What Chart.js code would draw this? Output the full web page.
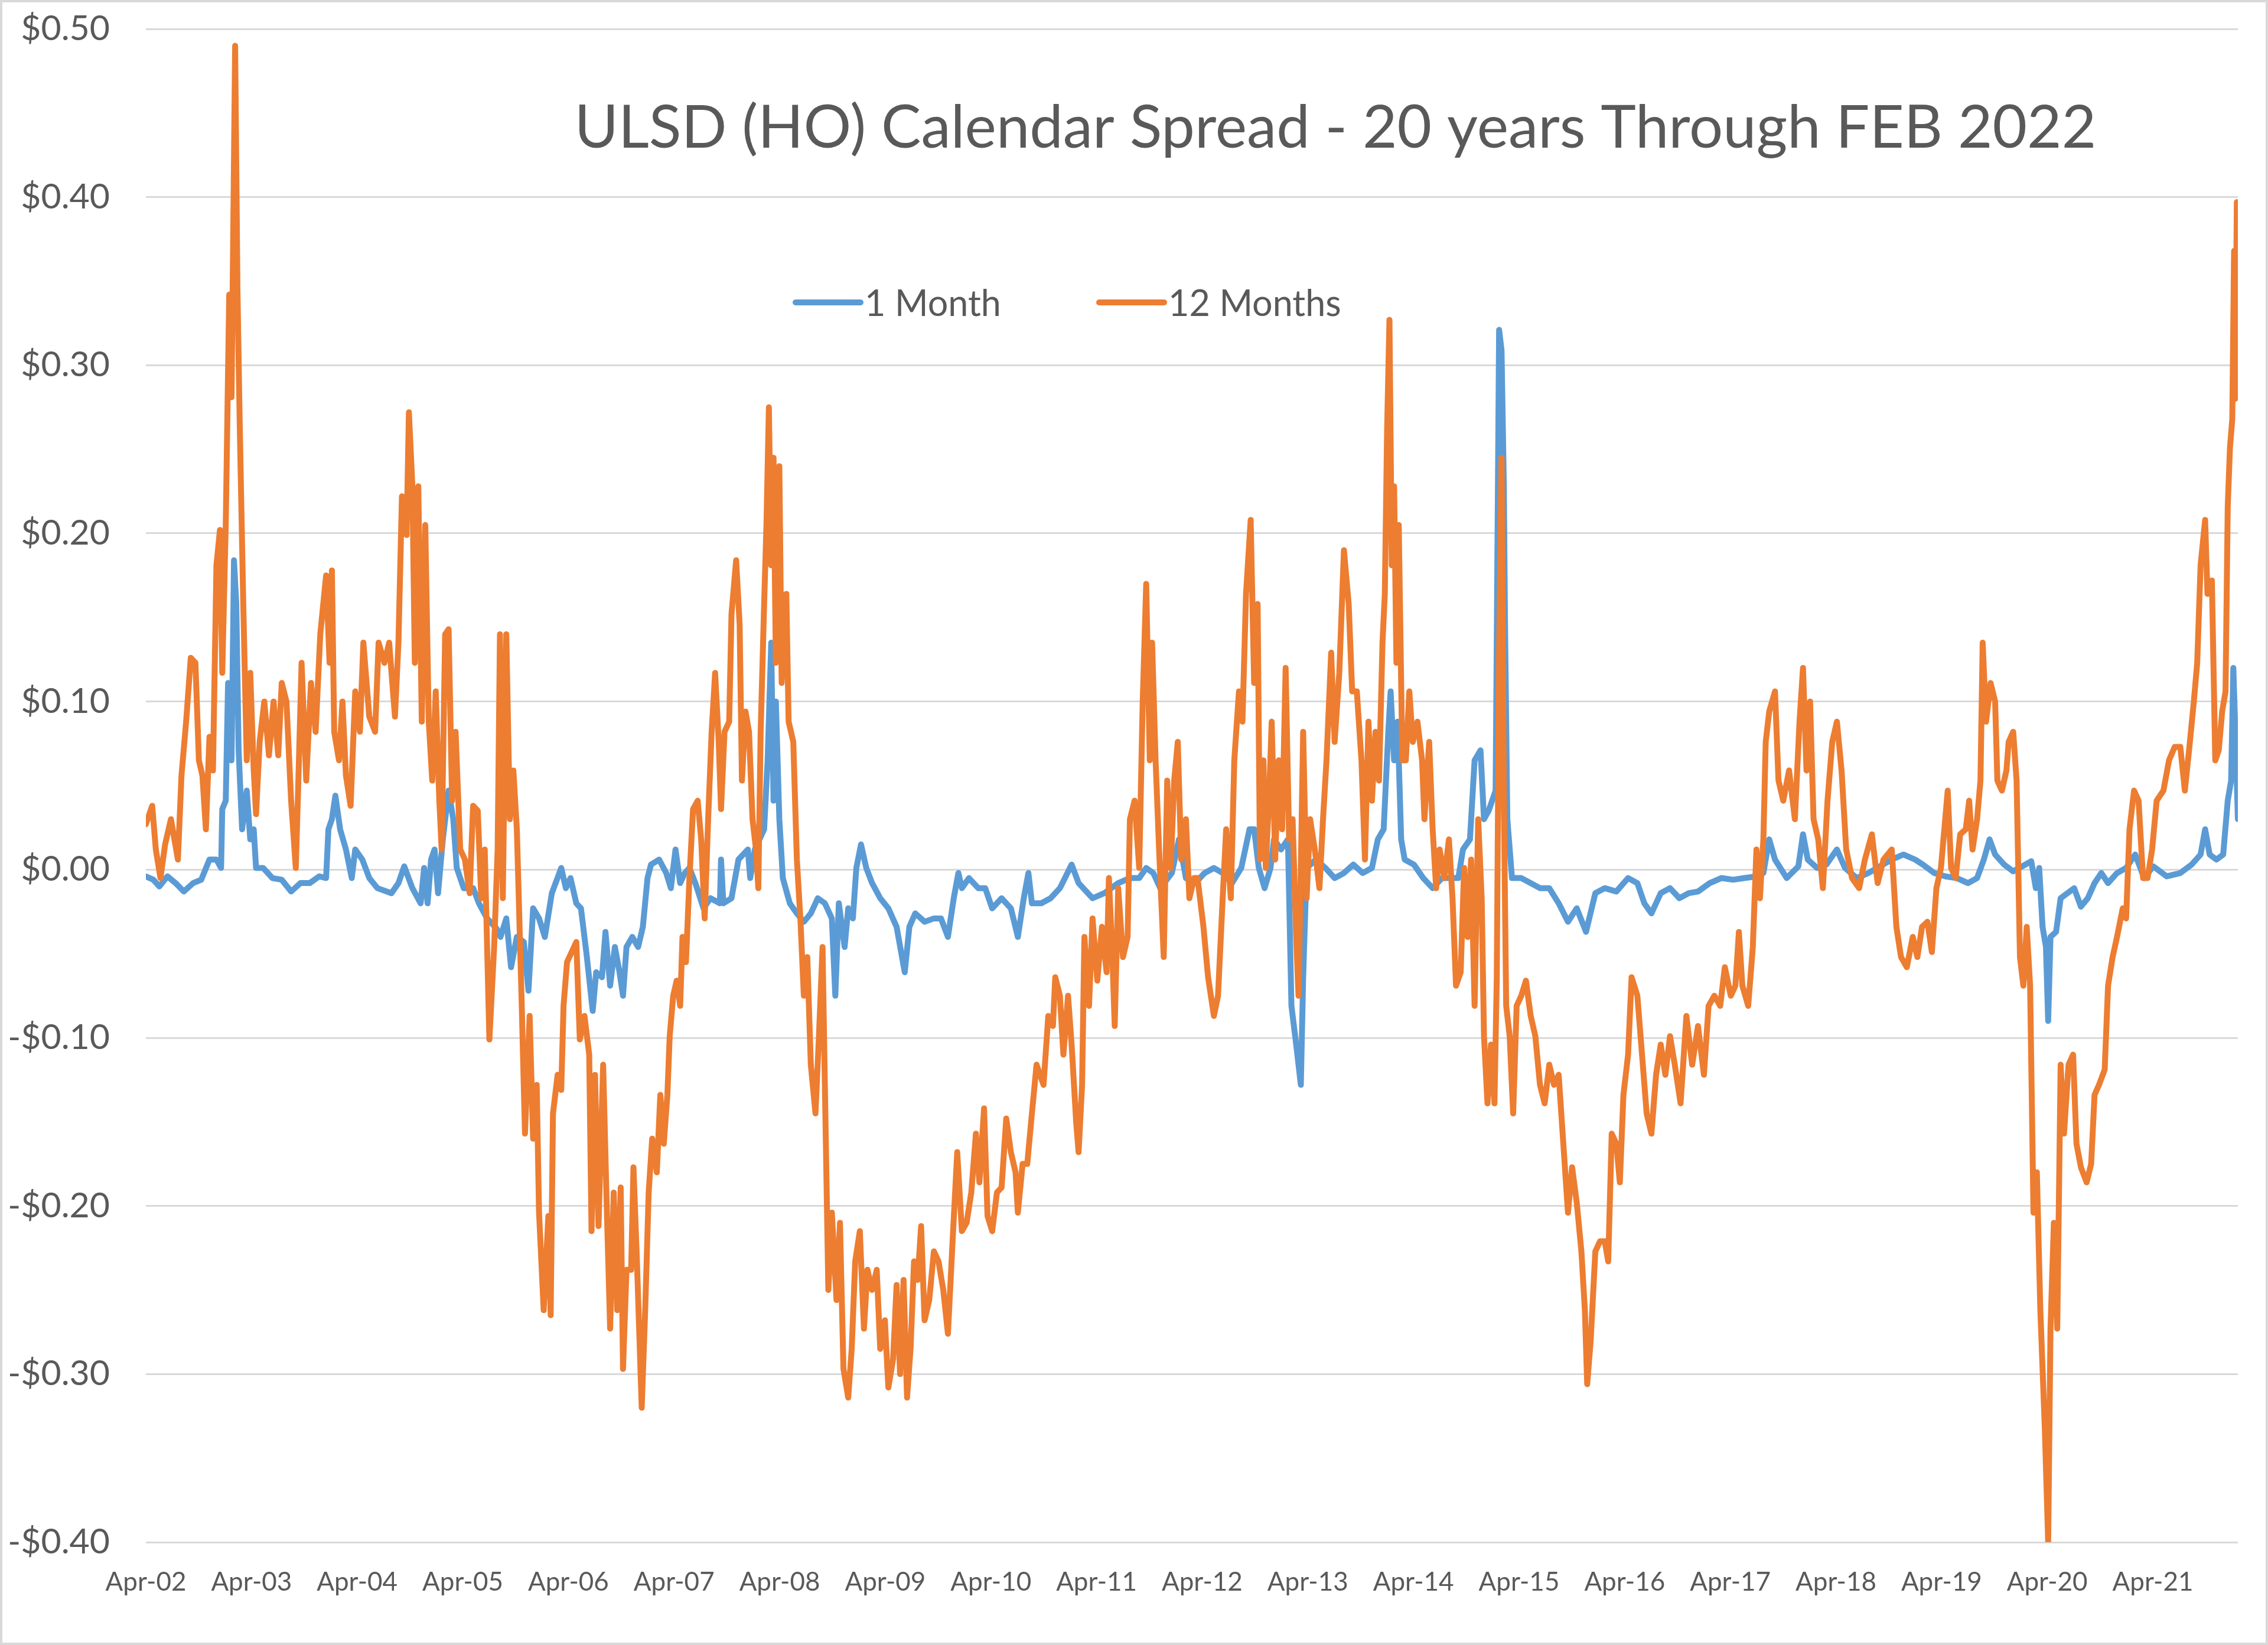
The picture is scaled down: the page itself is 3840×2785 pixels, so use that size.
<!DOCTYPE html>
<html>
<head>
<meta charset="utf-8">
<title>ULSD (HO) Calendar Spread</title>
<script src="https://cdn.jsdelivr.net/npm/chart.js@4.4.1/dist/chart.umd.min.js"></script>
<style>
  html, body { margin: 0; padding: 0; background: #fff; }
  #frame { width: 3840px; height: 2785px; box-sizing: border-box; border: 4px solid #d9d9d9; background: #fff; }
  #myChart { display: block; }
</style>
</head>
<body>
<div id="frame"><canvas id="myChart" width="3832" height="2777"></canvas></div>
<script>
'use strict';

const chartTitle = 'ULSD (HO) Calendar Spread - 20 years Through FEB 2022';
const seriesNames = ['1 Month', '12 Months'];
const tickLabels = ['Apr-02', 'Apr-03', 'Apr-04', 'Apr-05', 'Apr-06', 'Apr-07', 'Apr-08', 'Apr-09', 'Apr-10', 'Apr-11',
  'Apr-12', 'Apr-13', 'Apr-14', 'Apr-15', 'Apr-16', 'Apr-17', 'Apr-18', 'Apr-19', 'Apr-20', 'Apr-21'];

// x = years since Apr-02, y = spread in $/gal
const oneMonthYears = [
  0.000, 0.071, 0.127, 0.204, 0.281, 0.359, 0.447, 0.524, 0.602, 0.668, 0.712, 0.723, 0.756, 0.778, 0.811, 0.834,
  0.856, 0.878, 0.911, 0.955, 0.988, 1.021, 1.043, 1.110, 1.198, 1.286, 1.375, 1.463, 1.551, 1.640, 1.706, 1.728,
  1.761, 1.794, 1.839, 1.894, 1.949, 1.982, 2.049, 2.115, 2.192, 2.325, 2.391, 2.446, 2.523, 2.601, 2.634, 2.667,
  2.700, 2.733, 2.766, 2.811, 2.866, 2.910, 2.943, 3.009, 3.098, 3.153, 3.230, 3.319, 3.357, 3.412, 3.457, 3.512,
  3.578, 3.622, 3.666, 3.722, 3.777, 3.843, 3.932, 3.976, 4.020, 4.075, 4.119, 4.175, 4.230, 4.263, 4.318, 4.351,
  4.395, 4.440, 4.484, 4.517, 4.550, 4.605, 4.660, 4.705, 4.749, 4.782, 4.859, 4.926, 4.970, 5.014, 5.058, 5.102,
  5.146, 5.202, 5.279, 5.345, 5.434, 5.445, 5.467, 5.544, 5.610, 5.699, 5.721, 5.765, 5.853, 5.886, 5.920, 5.942,
  5.964, 5.997, 6.030, 6.096, 6.163, 6.229, 6.295, 6.361, 6.428, 6.494, 6.527, 6.560, 6.615, 6.649, 6.693, 6.726,
  6.770, 6.820, 6.875, 6.952, 7.029, 7.107, 7.184, 7.228, 7.284, 7.372, 7.460, 7.527, 7.593, 7.648, 7.692, 7.725,
  7.792, 7.880, 7.946, 8.012, 8.101, 8.189, 8.255, 8.311, 8.355, 8.388, 8.476, 8.565, 8.653, 8.764, 8.830, 8.962,
  9.073, 9.205, 9.316, 9.404, 9.470, 9.537, 9.603, 9.713, 9.780, 9.846, 9.934, 10.023, 10.111, 10.194, 10.282, 10.370,
  10.448, 10.492, 10.536, 10.591, 10.647, 10.680, 10.746, 10.812, 10.845, 10.890, 10.934, 10.956, 10.989, 11.077, 11.166, 11.254,
  11.342, 11.431, 11.519, 11.607, 11.663, 11.718, 11.762, 11.784, 11.817, 11.850, 11.884, 11.917, 12.005, 12.093, 12.182, 12.270,
  12.359, 12.425, 12.469, 12.535, 12.579, 12.635, 12.668, 12.712, 12.778, 12.811, 12.834, 12.856, 12.867, 12.889, 12.933, 13.021,
  13.110, 13.198, 13.286, 13.375, 13.463, 13.546, 13.634, 13.722, 13.811, 13.921, 14.032, 14.120, 14.186, 14.253, 14.341, 14.429,
  14.518, 14.606, 14.694, 14.805, 14.915, 15.026, 15.136, 15.247, 15.313, 15.368, 15.423, 15.534, 15.644, 15.688, 15.733, 15.821,
  15.909, 16.009, 16.086, 16.197, 16.307, 16.417, 16.528, 16.638, 16.749, 16.823, 16.930, 17.037, 17.144, 17.250, 17.336, 17.400,
  17.454, 17.507, 17.592, 17.678, 17.764, 17.849, 17.892, 17.924, 17.956, 17.988, 18.009, 18.031, 18.084, 18.127, 18.191, 18.255,
  18.319, 18.384, 18.448, 18.512, 18.576, 18.661, 18.747, 18.833, 18.918, 19.004, 19.132, 19.260, 19.367, 19.452, 19.495, 19.538,
  19.602, 19.666, 19.709, 19.741, 19.762, 19.784, 19.805
];
const oneMonthSpread = [
  -0.004, -0.006, -0.010, -0.004, -0.008, -0.013, -0.008, -0.006, 0.006, 0.006, 0.001, 0.036, 0.041, 0.111, 0.065, 0.184,
  0.158, 0.071, 0.024, 0.047, 0.018, 0.024, 0.001, 0.001, -0.005, -0.006, -0.013, -0.008, -0.008, -0.004, -0.005, 0.024,
  0.030, 0.044, 0.024, 0.012, -0.005, 0.012, 0.006, -0.005, -0.011, -0.014, -0.008, 0.002, -0.011, -0.020, 0.001, -0.020,
  0.006, 0.012, -0.014, 0.018, 0.047, 0.030, 0.001, -0.011, -0.011, -0.020, -0.029, -0.035, -0.040, -0.029, -0.058, -0.040,
  -0.043, -0.072, -0.023, -0.029, -0.040, -0.014, 0.001, -0.011, -0.005, -0.020, -0.023, -0.052, -0.084, -0.061, -0.064, -0.037,
  -0.069, -0.046, -0.061, -0.075, -0.046, -0.040, -0.046, -0.034, -0.005, 0.003, 0.006, -0.002, -0.011, 0.012, -0.008, -0.002,
  0.001, -0.008, -0.023, -0.017, -0.020, 0.006, -0.020, -0.017, 0.006, 0.012, -0.005, 0.012, 0.024, 0.065, 0.135, 0.041,
  0.100, 0.030, -0.005, -0.020, -0.026, -0.031, -0.026, -0.017, -0.020, -0.029, -0.075, -0.020, -0.046, -0.023, -0.029, 0.001,
  0.015, 0.001, -0.008, -0.017, -0.023, -0.034, -0.061, -0.034, -0.026, -0.031, -0.029, -0.029, -0.040, -0.017, -0.002, -0.011,
  -0.005, -0.011, -0.011, -0.023, -0.017, -0.023, -0.040, -0.017, -0.002, -0.020, -0.020, -0.017, -0.011, 0.003, -0.008, -0.017,
  -0.014, -0.008, -0.005, -0.005, 0.001, -0.002, -0.011, -0.002, 0.018, -0.005, -0.008, -0.002, 0.001, -0.002, -0.008, 0.001,
  0.024, 0.024, 0.001, -0.011, 0.001, 0.018, 0.012, 0.018, -0.081, -0.104, -0.128, -0.064, 0.001, 0.006, 0.001, -0.005,
  -0.002, 0.003, -0.002, 0.001, 0.018, 0.024, 0.082, 0.106, 0.065, 0.088, 0.018, 0.006, 0.003, -0.005, -0.011, -0.005,
  -0.005, -0.005, 0.012, 0.018, 0.065, 0.071, 0.030, 0.035, 0.047, 0.321, 0.309, 0.228, 0.146, 0.030, -0.005, -0.005,
  -0.008, -0.011, -0.011, -0.020, -0.031, -0.023, -0.037, -0.014, -0.011, -0.013, -0.005, -0.008, -0.020, -0.026, -0.014, -0.011,
  -0.017, -0.014, -0.013, -0.008, -0.005, -0.006, -0.005, -0.004, -0.002, 0.018, 0.006, -0.005, 0.002, 0.021, 0.006, 0.001,
  0.003, 0.012, 0.001, -0.005, -0.002, 0.002, 0.006, 0.009, 0.006, 0.003, -0.002, -0.004, -0.005, -0.008, -0.005, 0.006,
  0.018, 0.009, 0.003, -0.001, 0.002, 0.005, -0.011, 0.001, -0.034, -0.046, -0.090, -0.040, -0.037, -0.017, -0.014, -0.011,
  -0.022, -0.017, -0.008, -0.002, -0.008, -0.002, 0.001, 0.009, -0.005, 0.002, -0.004, -0.002, 0.003, 0.009, 0.024, 0.009,
  0.006, 0.009, 0.041, 0.053, 0.120, 0.076, 0.030
];

const twelveMonthYears = [
  0.000, 0.060, 0.094, 0.138, 0.182, 0.237, 0.303, 0.337, 0.381, 0.425, 0.469, 0.502, 0.535, 0.568, 0.602, 0.635,
  0.668, 0.701, 0.723, 0.756, 0.789, 0.811, 0.845, 0.867, 0.889, 0.922, 0.955, 0.988, 1.021, 1.043, 1.077, 1.121,
  1.165, 1.209, 1.253, 1.286, 1.331, 1.375, 1.419, 1.441, 1.474, 1.518, 1.563, 1.607, 1.651, 1.706, 1.739, 1.761,
  1.783, 1.828, 1.861, 1.894, 1.938, 1.982, 2.026, 2.059, 2.115, 2.170, 2.203, 2.258, 2.303, 2.358, 2.391, 2.424,
  2.468, 2.490, 2.523, 2.546, 2.579, 2.612, 2.645, 2.678, 2.711, 2.744, 2.778, 2.800, 2.833, 2.866, 2.899, 2.932,
  2.976, 3.020, 3.065, 3.098, 3.142, 3.175, 3.208, 3.252, 3.297, 3.330, 3.352, 3.379, 3.412, 3.446, 3.479, 3.512,
  3.556, 3.589, 3.633, 3.666, 3.700, 3.722, 3.766, 3.810, 3.832, 3.854, 3.898, 3.932, 3.954, 3.987, 4.031, 4.075,
  4.108, 4.152, 4.197, 4.219, 4.252, 4.285, 4.329, 4.362, 4.395, 4.429, 4.462, 4.495, 4.517, 4.550, 4.594, 4.616,
  4.649, 4.694, 4.727, 4.760, 4.793, 4.837, 4.870, 4.903, 4.937, 4.959, 4.992, 5.025, 5.058, 5.080, 5.113, 5.146,
  5.180, 5.224, 5.257, 5.290, 5.323, 5.356, 5.389, 5.423, 5.445, 5.478, 5.522, 5.544, 5.588, 5.621, 5.643, 5.677,
  5.710, 5.743, 5.776, 5.798, 5.820, 5.853, 5.875, 5.898, 5.920, 5.942, 5.964, 5.997, 6.019, 6.063, 6.085, 6.129,
  6.163, 6.196, 6.229, 6.262, 6.295, 6.339, 6.372, 6.406, 6.428, 6.461, 6.494, 6.538, 6.571, 6.604, 6.649, 6.682,
  6.715, 6.759, 6.798, 6.831, 6.875, 6.919, 6.952, 6.996, 7.029, 7.074, 7.107, 7.140, 7.173, 7.206, 7.239, 7.272,
  7.306, 7.339, 7.372, 7.416, 7.460, 7.504, 7.549, 7.593, 7.637, 7.681, 7.725, 7.770, 7.814, 7.858, 7.891, 7.935,
  7.968, 8.012, 8.057, 8.101, 8.145, 8.189, 8.233, 8.255, 8.300, 8.344, 8.388, 8.432, 8.498, 8.543, 8.587, 8.609,
  8.653, 8.686, 8.730, 8.764, 8.808, 8.830, 8.863, 8.885, 8.929, 8.962, 9.007, 9.051, 9.095, 9.117, 9.150, 9.172,
  9.205, 9.250, 9.294, 9.316, 9.360, 9.404, 9.437, 9.470, 9.504, 9.526, 9.559, 9.592, 9.636, 9.669, 9.702, 9.735,
  9.769, 9.802, 9.846, 9.879, 9.923, 9.956, 10.012, 10.056, 10.111, 10.150, 10.194, 10.227, 10.271, 10.304, 10.348, 10.381,
  10.415, 10.459, 10.492, 10.525, 10.547, 10.580, 10.602, 10.636, 10.658, 10.691, 10.724, 10.757, 10.790, 10.823, 10.856, 10.890,
  10.912, 10.934, 10.956, 10.989, 11.022, 11.066, 11.110, 11.144, 11.177, 11.221, 11.254, 11.298, 11.342, 11.387, 11.420, 11.464,
  11.508, 11.541, 11.574, 11.607, 11.641, 11.674, 11.707, 11.729, 11.751, 11.773, 11.795, 11.817, 11.839, 11.861, 11.895, 11.928,
  11.961, 11.994, 12.038, 12.082, 12.104, 12.149, 12.182, 12.215, 12.248, 12.292, 12.336, 12.370, 12.403, 12.447, 12.480, 12.513,
  12.546, 12.579, 12.613, 12.646, 12.668, 12.701, 12.734, 12.767, 12.789, 12.811, 12.834, 12.856, 12.878, 12.911, 12.944, 12.977,
  13.021, 13.065, 13.110, 13.154, 13.198, 13.242, 13.286, 13.331, 13.375, 13.419, 13.463, 13.502, 13.546, 13.590, 13.623, 13.645,
  13.678, 13.722, 13.767, 13.811, 13.844, 13.877, 13.921, 13.954, 13.988, 14.032, 14.065, 14.120, 14.164, 14.208, 14.253, 14.297,
  14.341, 14.385, 14.429, 14.474, 14.529, 14.584, 14.639, 14.694, 14.750, 14.794, 14.849, 14.904, 14.948, 15.004, 15.048, 15.081,
  15.114, 15.169, 15.213, 15.247, 15.280, 15.313, 15.335, 15.368, 15.423, 15.456, 15.501, 15.556, 15.611, 15.655, 15.688, 15.721,
  15.755, 15.788, 15.832, 15.876, 15.920, 15.965, 16.009, 16.053, 16.097, 16.152, 16.219, 16.274, 16.340, 16.395, 16.450, 16.528,
  16.572, 16.616, 16.671, 16.727, 16.771, 16.815, 16.866, 16.908, 16.951, 16.994, 17.026, 17.058, 17.090, 17.133, 17.176, 17.229,
  17.261, 17.293, 17.336, 17.368, 17.389, 17.421, 17.464, 17.507, 17.528, 17.571, 17.614, 17.635, 17.678, 17.710, 17.742, 17.774,
  17.806, 17.838, 17.870, 17.902, 17.935, 17.977, 18.009, 18.031, 18.063, 18.095, 18.127, 18.159, 18.202, 18.245, 18.277, 18.319,
  18.373, 18.416, 18.448, 18.490, 18.544, 18.576, 18.619, 18.661, 18.715, 18.747, 18.779, 18.822, 18.865, 18.907, 18.950, 18.993,
  19.036, 19.100, 19.153, 19.207, 19.260, 19.303, 19.346, 19.388, 19.420, 19.452, 19.495, 19.517, 19.559, 19.591, 19.624, 19.656,
  19.688, 19.709, 19.730, 19.752, 19.769, 19.780, 19.795
];
const twelveMonthSpread = [
  0.027, 0.038, 0.012, -0.005, 0.015, 0.030, 0.006, 0.056, 0.088, 0.126, 0.123, 0.065, 0.056, 0.024, 0.079, 0.059,
  0.181, 0.202, 0.117, 0.205, 0.342, 0.281, 0.490, 0.345, 0.263, 0.158, 0.065, 0.117, 0.059, 0.033, 0.076, 0.100,
  0.068, 0.100, 0.068, 0.111, 0.100, 0.041, 0.001, 0.047, 0.123, 0.053, 0.111, 0.082, 0.140, 0.175, 0.123, 0.178,
  0.082, 0.065, 0.100, 0.056, 0.038, 0.106, 0.082, 0.135, 0.091, 0.082, 0.135, 0.123, 0.135, 0.091, 0.135, 0.222,
  0.199, 0.272, 0.228, 0.123, 0.228, 0.088, 0.205, 0.088, 0.053, 0.106, 0.041, 0.012, 0.140, 0.143, 0.041, 0.082,
  0.012, 0.006, -0.014, 0.038, 0.035, -0.017, 0.012, -0.101, -0.046, 0.012, 0.140, -0.017, 0.140, 0.030, 0.059, 0.024,
  -0.075, -0.157, -0.087, -0.160, -0.128, -0.204, -0.262, -0.206, -0.265, -0.145, -0.122, -0.131, -0.081, -0.055, -0.049, -0.043,
  -0.101, -0.087, -0.110, -0.215, -0.122, -0.212, -0.116, -0.198, -0.273, -0.192, -0.262, -0.189, -0.297, -0.238, -0.238, -0.177,
  -0.233, -0.320, -0.262, -0.192, -0.160, -0.180, -0.134, -0.163, -0.134, -0.099, -0.075, -0.066, -0.081, -0.040, -0.055, -0.005,
  0.036, 0.041, 0.018, -0.029, 0.030, 0.082, 0.117, 0.076, 0.036, 0.082, 0.088, 0.152, 0.184, 0.146, 0.053, 0.094,
  0.082, 0.030, 0.012, -0.011, 0.082, 0.158, 0.205, 0.275, 0.181, 0.245, 0.123, 0.240, 0.111, 0.164, 0.088, 0.076,
  0.006, -0.029, -0.075, -0.052, -0.116, -0.145, -0.099, -0.046, -0.128, -0.250, -0.204, -0.256, -0.210, -0.297, -0.314, -0.285,
  -0.233, -0.215, -0.273, -0.238, -0.250, -0.238, -0.285, -0.268, -0.308, -0.291, -0.247, -0.300, -0.244, -0.314, -0.285, -0.233,
  -0.244, -0.212, -0.268, -0.256, -0.227, -0.233, -0.250, -0.276, -0.221, -0.168, -0.215, -0.210, -0.192, -0.157, -0.186, -0.142,
  -0.206, -0.215, -0.192, -0.189, -0.148, -0.168, -0.180, -0.204, -0.175, -0.175, -0.145, -0.116, -0.128, -0.087, -0.093, -0.064,
  -0.075, -0.110, -0.075, -0.104, -0.151, -0.168, -0.128, -0.040, -0.081, -0.029, -0.066, -0.034, -0.061, -0.005, -0.052, -0.093,
  -0.011, -0.052, -0.040, 0.030, 0.041, 0.001, 0.100, 0.170, 0.065, 0.135, 0.065, 0.012, -0.052, 0.053, 0.001, 0.053,
  0.076, 0.006, 0.030, -0.017, -0.005, -0.005, -0.034, -0.064, -0.087, -0.075, -0.017, 0.024, -0.017, 0.065, 0.106, 0.088,
  0.164, 0.208, 0.111, 0.158, 0.006, 0.065, 0.001, 0.047, 0.088, 0.006, 0.065, 0.024, 0.120, 0.018, 0.030, -0.040,
  -0.075, 0.001, 0.082, -0.017, 0.030, 0.012, -0.011, 0.030, 0.065, 0.129, 0.076, 0.117, 0.190, 0.158, 0.106, 0.106,
  0.065, 0.006, 0.088, 0.041, 0.082, 0.053, 0.135, 0.164, 0.263, 0.327, 0.181, 0.228, 0.123, 0.205, 0.065, 0.065,
  0.106, 0.076, 0.088, 0.065, 0.030, 0.076, 0.024, -0.011, 0.012, -0.005, 0.018, -0.017, -0.069, -0.061, 0.001, -0.040,
  0.006, -0.081, 0.030, -0.017, -0.099, -0.139, -0.104, -0.139, -0.064, 0.129, 0.245, 0.041, -0.081, -0.099, -0.145, -0.081,
  -0.075, -0.066, -0.087, -0.099, -0.128, -0.139, -0.116, -0.128, -0.122, -0.163, -0.204, -0.177, -0.198, -0.227, -0.262, -0.306,
  -0.280, -0.227, -0.221, -0.221, -0.233, -0.157, -0.163, -0.186, -0.134, -0.110, -0.064, -0.075, -0.110, -0.145, -0.157, -0.122,
  -0.104, -0.122, -0.099, -0.116, -0.139, -0.087, -0.116, -0.093, -0.122, -0.081, -0.075, -0.081, -0.058, -0.075, -0.069, -0.037,
  -0.069, -0.081, -0.046, 0.012, -0.017, 0.018, 0.076, 0.094, 0.106, 0.053, 0.041, 0.059, 0.030, 0.088, 0.120, 0.059,
  0.100, 0.030, 0.018, -0.011, 0.041, 0.076, 0.088, 0.059, 0.012, -0.005, -0.011, 0.006, 0.021, -0.008, 0.006, 0.012,
  -0.034, -0.052, -0.058, -0.040, -0.052, -0.034, -0.031, -0.049, -0.011, 0.001, 0.024, 0.047, 0.001, -0.005, 0.021, 0.024,
  0.041, 0.012, 0.030, 0.053, 0.135, 0.088, 0.111, 0.100, 0.053, 0.047, 0.059, 0.076, 0.082, 0.053, -0.052, -0.069,
  -0.034, -0.069, -0.204, -0.180, -0.262, -0.332, -0.400, -0.273, -0.210, -0.273, -0.116, -0.157, -0.116, -0.110, -0.163, -0.177,
  -0.186, -0.175, -0.134, -0.128, -0.119, -0.069, -0.052, -0.040, -0.023, -0.029, 0.024, 0.047, 0.041, -0.005, -0.005, 0.012,
  0.041, 0.047, 0.065, 0.073, 0.073, 0.047, 0.073, 0.100, 0.123, 0.181, 0.208, 0.164, 0.172, 0.065, 0.071, 0.094,
  0.106, 0.216, 0.251, 0.268, 0.368, 0.280, 0.397
];

const blue = '#5b9bd5';
const orange = '#ed7d31';
const textGray = '#595959';
const gridGray = '#d9d9d9';

function toPoints(xs, ys) {
  return xs.map((x, i) => ({ x: x, y: ys[i] }));
}

function money(v) {
  if (Math.abs(v) < 1e-9) return '$0.00';
  return (v < 0 ? '-$' : '$') + Math.abs(v).toFixed(2);
}

// title and legend sit inside the plot area, so they are drawn here
const overlayText = {
  id: 'overlayText',
  afterDraw(chart) {
    const ctx = chart.ctx;
    ctx.save();
    ctx.fillStyle = textGray;
    ctx.font = '101px Lato';
    ctx.textAlign = 'center';
    ctx.textBaseline = 'alphabetic';
    ctx.fillText(chartTitle, 2257, 246);

    const legendX = [1338, 1852];
    const legendY = 508;
    ctx.font = '61px Lato';
    ctx.textAlign = 'left';
    ctx.textBaseline = 'middle';
    chart.data.datasets.forEach((ds, i) => {
      const x = legendX[i];
      ctx.strokeStyle = ds.borderColor;
      ctx.lineWidth = 10;
      ctx.lineCap = 'round';
      ctx.beginPath();
      ctx.moveTo(x + 5, legendY);
      ctx.lineTo(x + 115, legendY);
      ctx.stroke();
      ctx.fillText(ds.label, x + 122, legendY + 3);
    });
    ctx.restore();
  }
};

const config = {
  type: 'line',
  data: {
    datasets: [
      {
        label: seriesNames[0],
        data: toPoints(oneMonthYears, oneMonthSpread),
        borderColor: blue,
        borderWidth: 10,
        order: 1
      },
      {
        label: seriesNames[1],
        data: toPoints(twelveMonthYears, twelveMonthSpread),
        borderColor: orange,
        borderWidth: 10,
        order: 0
      }
    ]
  },
  options: {
    responsive: false,
    animation: false,
    layout: { padding: { left: 0, right: 47, top: 45, bottom: 0 } },
    elements: {
      point: { radius: 0 },
      line: { tension: 0, borderJoinStyle: 'round', borderCapStyle: 'round' }
    },
    scales: {
      x: {
        type: 'linear',
        min: 0,
        max: Math.max(oneMonthYears[oneMonthYears.length - 1], twelveMonthYears[twelveMonthYears.length - 1]),
        grid: { display: false },
        border: { display: false },
        afterBuildTicks: (scale) => {
          scale.ticks = tickLabels.map((_, i) => ({ value: i }));
        },
        afterFit: (scale) => { scale.height = 170; },
        ticks: {
          color: textGray,
          font: { size: 44 },
          padding: 33,
          maxRotation: 0,
          autoSkip: false,
          callback: (v) => tickLabels[v]
        }
      },
      y: {
        min: -0.4,
        max: 0.5,
        grid: { color: gridGray, lineWidth: 3, drawTicks: false },
        border: { display: false },
        afterFit: (scale) => {
          scale.width = 243;
          scale.paddingTop = 0;
          scale.paddingBottom = 0;
        },
        ticks: {
          stepSize: 0.1,
          color: textGray,
          font: { size: 59 },
          padding: 61,
          callback: (v) => money(v)
        }
      }
    },
    plugins: {
      legend: { display: false },
      title: { display: false },
      tooltip: { enabled: false }
    }
  },
  plugins: [overlayText]
};

Chart.defaults.font.family = 'Lato';
const myChart = new Chart(document.getElementById('myChart'), config);
</script>
</body>
</html>
